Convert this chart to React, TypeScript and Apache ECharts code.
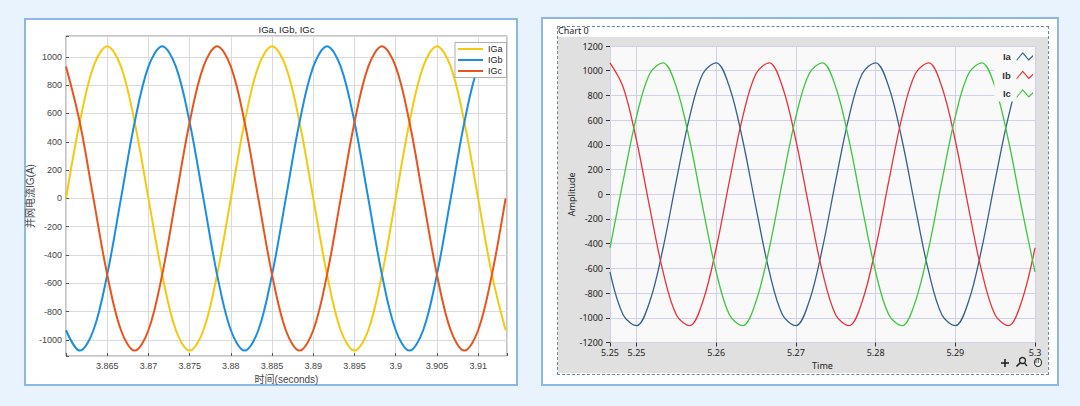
import { useEffect, useRef } from "react";
import * as echarts from "echarts";

// ---------- Left chart (MATLAB style) ----------
const leftTime = [
  3.86, 3.86167, 3.86333, 3.865, 3.86667, 3.86833, 3.87, 3.87167, 3.87333, 3.875, 3.87667,
  3.87833, 3.88, 3.88167, 3.88333, 3.885, 3.88667, 3.88833, 3.89, 3.89167, 3.89333, 3.895,
  3.89667, 3.89833, 3.9, 3.90167, 3.90333, 3.905, 3.90667, 3.90833, 3.91, 3.91167, 3.91333,
];
const IGa = [
  0, 538, 931, 1075, 931, 538, 0, -538, -931, -1075, -931, -538,
  0, 538, 931, 1075, 931, 538, 0, -538, -931, -1075, -931, -538,
  0, 538, 931, 1075, 931, 538, 0, -538, -931,
];
const IGb = [
  -931, -1075, -931, -538, 0, 538, 931, 1075, 931, 538, 0, -538,
  -931, -1075, -931, -538, 0, 538, 931, 1075, 931, 538, 0, -538,
  -931, -1075, -931, -538, 0, 538, 931, 1075, 931,
];
const IGc = [
  931, 538, 0, -538, -931, -1075, -931, -538, 0, 538, 931, 1075,
  931, 538, 0, -538, -931, -1075, -931, -538, 0, 538, 931, 1075,
  931, 538, 0, -538, -931, -1075, -931, -538, 0,
];
const leftXLabels = [3.865, 3.87, 3.875, 3.88, 3.885, 3.89, 3.895, 3.9, 3.905, 3.91];
const leftYLabels = [-1000, -800, -600, -400, -200, 0, 200, 400, 600, 800, 1000];
const leftXRange = [3.86, 3.9135];
const leftYRange = [-1113, 1147];

// ---------- Right chart (LabVIEW style) ----------
const rightTime = [
  5.24667, 5.24833, 5.25, 5.25167, 5.25333, 5.255, 5.25667, 5.25833, 5.26, 5.26167, 5.26333,
  5.265, 5.26667, 5.26833, 5.27, 5.27167, 5.27333, 5.275, 5.27667, 5.27833, 5.28, 5.28167,
  5.28333, 5.285, 5.28667, 5.28833, 5.29, 5.29167, 5.29333, 5.295, 5.29667, 5.29833, 5.3,
];
const Ia = [
  -629, -977, -1064, -866, -435, 112, 629, 977, 1064, 866, 435, -112,
  -629, -977, -1064, -866, -435, 112, 629, 977, 1064, 866, 435, -112,
  -629, -977, -1064, -866, -435, 112, 629, 977, 1064,
];
const Ib = [
  1064, 866, 435, -112, -629, -977, -1064, -866, -435, 112, 629, 977,
  1064, 866, 435, -112, -629, -977, -1064, -866, -435, 112, 629, 977,
  1064, 866, 435, -112, -629, -977, -1064, -866, -435,
];
const Ic = [
  -435, 112, 629, 977, 1064, 866, 435, -112, -629, -977, -1064, -866,
  -435, 112, 629, 977, 1064, 866, 435, -112, -629, -977, -1064, -866,
  -435, 112, 629, 977, 1064, 866, 435, -112, -629,
];
const rightXLabels = [5.24667, 5.25, 5.26, 5.27, 5.28, 5.29, 5.3];
const rightYLabels = [-1200, -1000, -800, -600, -400, -200, 0, 200, 400, 600, 800, 1000, 1200];
const rightXRange = [5.24667, 5.3];
const rightYRange = [-1200, 1200];

const FONT_L = '"Liberation Sans", Arial, "Noto Sans CJK SC", sans-serif';
const FONT_R = '"Noto Sans", "Open Sans", sans-serif';

const ZIGZAG =
  "path://M0,9 L6.7,0.7 L13.3,8.3 L18,4 L18,5.8 L13.3,10.3 L6.7,2.7 L0,10.6 Z";

const pair = (t: number[], v: number[]) => t.map((x, i) => [x, v[i]]);

export default function App() {
  const ref = useRef<HTMLDivElement>(null);

  useEffect(() => {
    if (!ref.current) return;
    const chart = echarts.init(ref.current, null, { renderer: "svg" });

    const leftLine = (name: string, data: number[], color: string) => ({
      name,
      type: "line",
      xAxisIndex: 0,
      yAxisIndex: 0,
      data: pair(leftTime, data),
      symbol: "none",
      smooth: 0.35,
      lineStyle: { width: 2, color },
      itemStyle: { color },
    });
    const rightLine = (name: string, data: number[], color: string) => ({
      name,
      type: "line",
      xAxisIndex: 1,
      yAxisIndex: 1,
      data: pair(rightTime, data),
      symbol: "none",
      smooth: 0.35,
      lineStyle: { width: 1.3, color },
      itemStyle: { color },
    });

    const option: any = {
      animation: false,
      grid: [
        {
          left: 66, top: 36, width: 441, height: 320,
          show: true, backgroundColor: "#ffffff", borderColor: "#8a8a8a", borderWidth: 1,
        },
        {
          left: 610, top: 46, width: 425, height: 296.5,
          show: true, backgroundColor: "#f9f9f9", borderWidth: 0,
        },
      ],
      xAxis: [
        {
          type: "value", gridIndex: 0, min: leftXRange[0], max: leftXRange[1],
          minInterval: 0.005, maxInterval: 0.005,
          axisLine: { show: false, onZero: false },
          axisTick: { show: true, inside: true, length: 3, lineStyle: { color: "#555" } },
          splitLine: { show: true, lineStyle: { color: "#dadada", width: 1 } },
          axisLabel: {
            customValues: leftXLabels,
            formatter: (v: number) => String(Number(v.toFixed(4))),
            fontFamily: FONT_L, fontSize: 9, color: "#444", margin: 5,
          },
          name: "时间(seconds)", nameLocation: "middle", nameGap: 17,
          nameTextStyle: { fontFamily: FONT_L, fontSize: 10, color: "#444" },
        },
        {
          type: "value", gridIndex: 1, min: rightXRange[0], max: rightXRange[1],
          minInterval: 0.01, maxInterval: 0.01,
          axisLine: { show: false, onZero: false },
          axisTick: { show: true, inside: false, length: 4, lineStyle: { color: "#333" } },
          splitLine: { show: true, lineStyle: { color: "#d0d0ea", width: 1 } },
          axisLabel: {
            customValues: rightXLabels,
            showMinLabel: true, showMaxLabel: true,
            formatter: (v: number) => String(Number(v.toFixed(2))),
            fontFamily: FONT_R, fontSize: 9, color: "#222", margin: 5,
          },
          name: "Time", nameLocation: "middle", nameGap: 18,
          nameTextStyle: { fontFamily: FONT_R, fontSize: 9, color: "#222" },
        },
      ],
      yAxis: [
        {
          type: "value", gridIndex: 0, min: leftYRange[0], max: leftYRange[1],
          minInterval: 200, maxInterval: 200,
          axisLine: { show: false, onZero: false },
          axisTick: { show: true, inside: true, length: 3, lineStyle: { color: "#555" } },
          splitLine: { show: true, lineStyle: { color: "#dadada", width: 1 } },
          axisLabel: {
            customValues: leftYLabels,
            formatter: (v: number) => String(Math.round(v)),
            fontFamily: FONT_L, fontSize: 9, color: "#444", margin: 4,
          },
          name: "并网电流IG(A)", nameLocation: "middle", nameGap: 24,
          nameTextStyle: { fontFamily: FONT_L, fontSize: 10, color: "#444" },
        },
        {
          type: "value", gridIndex: 1, min: rightYRange[0], max: rightYRange[1],
          interval: 200,
          axisLine: { show: false, onZero: false },
          axisTick: { show: true, inside: false, length: 4, lineStyle: { color: "#333" } },
          splitLine: { show: true, lineStyle: { color: "#d0d0ea", width: 1 } },
          axisLabel: {
            customValues: rightYLabels,
            formatter: (v: number) => String(Math.round(v)),
            fontFamily: FONT_R, fontSize: 9, color: "#222", margin: 7,
          },
          name: "Amplitude", nameLocation: "middle", nameGap: 31,
          nameTextStyle: { fontFamily: FONT_R, fontSize: 9, color: "#222" },
        },
      ],
      legend: [
        {
          data: ["IGa", "IGb", "IGc"],
          orient: "vertical", left: 455, top: 42.5,
          itemWidth: 25, itemHeight: 8.5, itemGap: 2,
          padding: [2, 4, 2, 2],
          backgroundColor: "#ffffff", borderColor: "#9a9a9a", borderWidth: 0.8,
          itemStyle: { opacity: 0, color: "transparent", borderWidth: 0 },
          textStyle: { fontFamily: FONT_L, fontSize: 9, color: "#222" },
        },
        {
          data: ["Ia", "Ib", "Ic"],
          orient: "vertical", align: "right", right: 45, top: 48.5,
          itemWidth: 18, itemHeight: 9, itemGap: 8.5,
          padding: [3, 2, 3, 8],
          icon: ZIGZAG,
          backgroundColor: "#f9f9f9", borderWidth: 0,
          itemStyle: { borderWidth: 0 },
          textStyle: { fontFamily: '"Liberation Sans", Arial, sans-serif', fontSize: 9.5, fontWeight: "bold", color: "#333" },
        },
      ],
      graphic: [
        {
          type: "text", x: 286.5, y: 29.5,
          style: { text: "IGa, IGb, IGc", align: "center", verticalAlign: "middle", font: `9.5px ${FONT_L}`, fill: "#222" },
        },
        {
          type: "text", x: 558, y: 30.5,
          style: { text: "Chart 0", align: "left", verticalAlign: "middle", font: `9px ${FONT_R}`, fill: "#222" },
        },
        { type: "line", shape: { x1: 1001, y1: 363, x2: 1009, y2: 363 }, style: { stroke: "#222", lineWidth: 1.6 } },
        { type: "line", shape: { x1: 1005, y1: 359, x2: 1005, y2: 367 }, style: { stroke: "#222", lineWidth: 1.6 } },
        { type: "circle", shape: { cx: 1022.5, cy: 360.5, r: 3 }, style: { stroke: "#222", fill: "none", lineWidth: 1.3 } },
        { type: "line", shape: { x1: 1020.5, y1: 362.5, x2: 1016.5, y2: 366.5 }, style: { stroke: "#222", lineWidth: 1.6 } },
        { type: "line", shape: { x1: 1024.5, y1: 363, x2: 1027, y2: 366 }, style: { stroke: "#222", lineWidth: 1.2 } },
        { type: "ellipse", shape: { cx: 1038, cy: 362.5, rx: 3.5, ry: 4 }, style: { stroke: "#333", fill: "#f3f3f3", lineWidth: 1.1 } },
        { type: "line", shape: { x1: 1036, y1: 359, x2: 1036, y2: 363 }, style: { stroke: "#333", lineWidth: 0.8 } },
        { type: "line", shape: { x1: 1038.3, y1: 358.8, x2: 1038.3, y2: 363 }, style: { stroke: "#333", lineWidth: 0.8 } },
      ],
      series: [
        leftLine("IGa", IGa, "#f5c90f"),
        leftLine("IGb", IGb, "#1a8ee3"),
        leftLine("IGc", IGc, "#e8541c"),
        rightLine("Ia", Ia, "#34608c"),
        rightLine("Ib", Ib, "#e8323a"),
        rightLine("Ic", Ic, "#3ec73e"),
      ],
    };

    chart.setOption(option);
    return () => chart.dispose();
  }, []);

  const abs = (s: any) => ({ position: "absolute" as const, boxSizing: "border-box" as const, ...s });

  return (
    <div style={abs({ left: 0, top: 0, width: 1080, height: 406, background: "#e8f3fd", overflow: "hidden" })}>
      <div style={abs({ left: 24, top: 18, width: 494, height: 368, background: "#fff", border: "2px solid #8db7e7" })} />
      <div style={abs({ left: 541, top: 17, width: 518, height: 369, background: "#fff", border: "2px solid #8db7e7" })} />
      <div style={abs({ left: 558, top: 37, width: 490, height: 336, background: "#e0e0e0" })} />
      <div style={abs({ left: 557, top: 26, width: 492, height: 349, border: "1px dashed #6a86a4" })} />
      <div ref={ref} style={abs({ left: 0, top: 0, width: 1080, height: 406 })} />
    </div>
  );
}
